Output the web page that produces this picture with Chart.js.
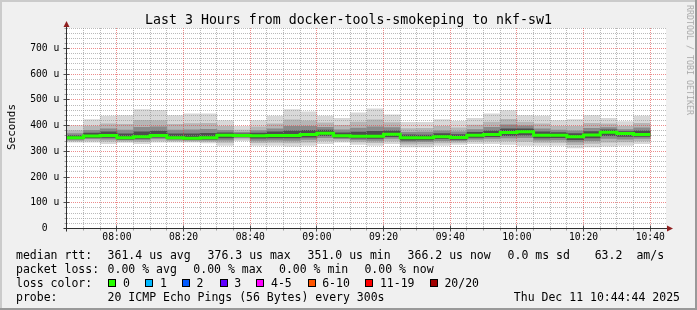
<!DOCTYPE html>
<html><head><meta charset="utf-8">
<script src="https://cdn.jsdelivr.net/npm/chart.js@4.4.1/dist/chart.umd.min.js"></script>
<style>
html,body{margin:0;padding:0;background:#f0f0f0;}
#wrap{position:relative;width:697px;height:310px;background:#f0f0f0;overflow:hidden;font-family:'DejaVu Sans Mono',monospace;color:#000;}
#c{position:absolute;left:0;top:0;width:697px;height:310px;}
.b{position:absolute;}
.t{position:absolute;white-space:pre;font-size:11.5px;line-height:14px;height:14px;}
.box{position:absolute;width:8px;height:8px;box-sizing:border-box;border:1px solid #000;}
#title{position:absolute;left:0;top:12px;width:697px;text-align:center;font-size:13.25px;line-height:16px;white-space:pre;}
#ylab{position:absolute;left:11px;top:127px;transform:translate(-50%,-50%) rotate(-90deg);font-size:10.9px;line-height:13px;white-space:pre;}
#wm{position:absolute;left:690px;top:60px;transform:translate(-50%,-50%) rotate(90deg);font-size:8.3px;line-height:10px;white-space:pre;color:#aaaaaa;}
</style></head><body>
<div id="wrap">
<canvas id="c" width="697" height="310"></canvas>
<div class="b" style="left:0;top:0;width:697px;height:2px;background:#cbcbcb"></div>
<div class="b" style="left:0;top:0;width:2px;height:310px;background:#cbcbcb"></div>
<div class="b" style="left:695px;top:0;width:2px;height:310px;background:#999999"></div>
<div class="b" style="left:0;top:308px;width:697px;height:2px;background:#999999"></div>
<div id="title">Last 3 Hours from docker-tools-smokeping to nkf-sw1</div>
<div id="ylab">Seconds</div>
<div id="wm">RRDTOOL / TOBI OETIKER</div>
<div id="legend"></div>
</div>
<script>
// ---- data ----
const binStarts = ['07:45','07:50','07:55','08:00','08:05','08:10','08:15','08:20','08:25','08:30',
  '08:35','08:40','08:45','08:50','08:55','09:00','09:05','09:10','09:15','09:20',
  '09:25','09:30','09:35','09:40','09:45','09:50','09:55','10:00','10:05','10:10',
  '10:15','10:20','10:25','10:30','10:35'];
const medianRtt = [353,360,362,353,357,362,353,351,353,363, 362,361,362,362,366,371,361,359,359,367,
  353,353,357,354,363,366,373,376,363,363, 357,364,374,370,366];
const pingMax = [400,424,437,439,463,460,439,446,446,420, 397,420,437,463,454,437,429,450,466,442,
  413,413,424,417,429,446,459,439,437,420, 424,439,429,416,437];
const upper2 = [381,398,407,405,421,420,405,408,409,397, 383,396,407,423,419,411,401,414,423,412,
  389,390,397,392,402,414,425,414,407,397, 397,409,407,397,409];
const upper3 = [369,382,388,383,394,396,383,384,386,382, 374,381,388,397,397,394,384,391,396,393,
  374,375,380,376,385,394,403,399,388,383, 380,390,393,385,392];
const upper4 = [361,371,376,368,376,379,368,368,370,372, 368,371,376,380,382,383,372,375,378,380,
  364,363,369,365,374,380,388,388,376,373, 369,377,384,377,380];
const lower4 = [349,353,354,348,350,355,349,347,348,352, 357,351,352,352,355,361,354,351,350,357,
  344,345,349,347,354,357,361,363,352,353, 346,352,361,358,358];
const lower3 = [345,349,348,345,345,350,345,344,344,344, 353,343,344,343,347,353,349,345,343,350,
  337,338,342,342,348,350,352,353,344,345, 337,342,350,348,350];
const lower2 = [341,343,340,340,338,343,341,340,339,335, 348,334,335,333,336,342,343,337,334,341,
  328,329,333,335,340,341,341,339,335,335, 326,331,336,337,341];
const pingMin = [336,336,330,335,330,336,336,336,333,323, 342,323,323,320,323,330,336,327,323,330,
  317,317,323,327,330,330,327,323,323,323, 313,317,320,323,330];
const xTickLabels = ['08:00','08:20','08:40','09:00','09:20','09:40','10:00','10:20','10:40'];
const yTickLabels = ['0','100 u','200 u','300 u','400 u','500 u','600 u','700 u'];
const rangeStart = '07:44:44', rangeEnd = '10:44:44', binMinutes = 5, gridStart = '07:45';
const yMax = 780, yMinorStep = 20, yMajorStep = 100;
const lossLabels = ['0','1','2','3','4-5','6-10','11-19','20/20'];
const lossColors = ['#26ff00','#00b8ff','#0059ff','#5e00ff','#ff00ff','#ff5500','#ff0000','#a10000'];

// ---- legend text ----
const legendRows = [
  {top:247.5, items:[[16,'median rtt:'],[107.6,'361.4 us avg'],[207.6,'376.3 us max'],[307.6,'351.0 us min'],[407.6,'366.2 us now'],[507.6,'0.0 ms sd'],[594.7,'63.2'],[636.4,'am/s']]},
  {top:261.5, items:[[16,'packet loss:'],[107.6,'0.00 % avg'],[193.3,'0.00 % max'],[279,'0.00 % min'],[364.4,'0.00 % now']]},
  {top:275.5, items:[[16,'loss color:']]},
  {top:289.5, items:[[16,'probe:'],[107.6,'20 ICMP Echo Pings (56 Bytes) every 300s']]}
];
const lg = document.getElementById('legend');
let html = '';
legendRows.forEach(r => r.items.forEach(([x,s]) => { html += `<div class="t" style="left:${x}px;top:${r.top}px">${s}</div>`; }));
const boxX = [108.4,145.3,182,219.6,256.4,307.6,365.3,429.8];
lossLabels.forEach((l,i) => {
  html += `<div class="box" style="left:${boxX[i]}px;top:278.5px;background:${lossColors[i]}"></div>`;
  html += `<div class="t" style="left:${boxX[i]+14.6}px;top:275.5px">${l}</div>`;
});
html += `<div class="t" style="right:17px;top:289.5px">Thu Dec 11 10:44:44 2025</div>`;
lg.innerHTML = html;

// ---- chart ----
const toMin = s => { const p = s.split(':').map(Number); return p[0]*60 + p[1] + (p[2]||0)/60; };
const xMin = toMin(rangeStart), xMax = toMin(rangeEnd), g0 = toMin(gridStart);
const centers = binStarts.map(s => toMin(s) + binMinutes/2);
const band = (lo, hi) => centers.map((c,i) => ({x:c, y:[lo[i], hi[i]]}));
const medianLine = [];
binStarts.forEach((s,i) => { medianLine.push({x:toMin(s), y:medianRtt[i]}); medianLine.push({x:toMin(s)+binMinutes, y:medianRtt[i]}); });
const labelSet = xTickLabels.map(s => toMin(s));

const MINOR = 'rgba(143,143,143,0.62)', MAJOR = 'rgba(225,70,70,0.62)';
const colX = (xs, v) => Math.floor(xs.getPixelForValue(v)) + 0.5;
function drawGrid(chart){
  const {ctx, chartArea:a} = chart; const xs = chart.scales.x, ys = chart.scales.y;
  const L = Math.floor(a.left) + 1, T = Math.ceil(a.top);
  ctx.save(); ctx.lineWidth = 1; ctx.setLineDash([1,1]);
  for (let v = yMinorStep; v <= yMax; v += yMinorStep) {
    const p = Math.round(ys.getPixelForValue(v) - 0.5) + 0.5;
    ctx.strokeStyle = (v % yMajorStep === 0) ? MAJOR : MINOR;
    ctx.beginPath(); ctx.moveTo(L, p); ctx.lineTo(a.right, p); ctx.stroke();
  }
  for (let v = g0 + binMinutes; v < xMax; v += binMinutes) {
    const p = colX(xs, v);
    ctx.strokeStyle = labelSet.includes(v) ? MAJOR : MINOR;
    ctx.beginPath(); ctx.moveTo(p, T); ctx.lineTo(p, a.bottom); ctx.stroke();
  }
  ctx.restore();
}
const frame = {
  id:'frame',
  beforeDraw(chart){
    const {ctx, chartArea:a} = chart;
    ctx.save(); ctx.fillStyle = '#ffffff';
    ctx.fillRect(a.left, a.top, a.right-a.left, a.bottom-a.top); ctx.restore();
  },
  beforeDatasetDraw(chart, args){ if (args.index === 0) drawGrid(chart); },
  afterDraw(chart){
    const {ctx} = chart; const xs = chart.scales.x, ys = chart.scales.y;
    const ax = Math.floor(xs.left)+0.5, ay = Math.floor(ys.getPixelForValue(0))+0.5;
    const right = xs.right, top = ys.top;
    ctx.save(); ctx.lineWidth = 1;
    for (let v = yMinorStep; v <= yMax; v += yMinorStep) {
      const p = Math.round(ys.getPixelForValue(v) - 0.5) + 0.5; const maj = v % yMajorStep === 0;
      ctx.strokeStyle = maj ? '#505050' : '#a0a0a0';
      ctx.beginPath(); ctx.moveTo(ax - (maj ? 3 : 2), p); ctx.lineTo(ax + (maj ? 3 : 1), p); ctx.stroke();
    }
    for (let v = g0 + binMinutes; v < xMax; v += binMinutes) {
      const p = colX(xs, v); const maj = labelSet.includes(v);
      ctx.strokeStyle = maj ? '#505050' : '#a0a0a0';
      ctx.beginPath(); ctx.moveTo(p, ay - (maj ? 3 : 1)); ctx.lineTo(p, ay + (maj ? 3 : 2)); ctx.stroke();
    }
    ctx.strokeStyle = '#303030';
    ctx.beginPath(); ctx.moveTo(ax-3, ay); ctx.lineTo(right+1, ay); ctx.stroke();
    ctx.beginPath(); ctx.moveTo(ax, ay+3); ctx.lineTo(ax, top-1); ctx.stroke();
    ctx.fillStyle = '#902020';
    ctx.beginPath(); ctx.moveTo(right+1, ay-3); ctx.lineTo(right+7, ay); ctx.lineTo(right+1, ay+3); ctx.closePath(); ctx.fill();
    ctx.beginPath(); ctx.moveTo(ax-3, top-1); ctx.lineTo(ax, top-7); ctx.lineTo(ax+3, top-1); ctx.closePath(); ctx.fill();
    ctx.restore();
  }
};

const barCommon = {type:'bar', grouped:false, barPercentage:1, categoryPercentage:1, borderWidth:0};
new Chart(document.getElementById('c'), {
  type:'bar',
  data:{datasets:[
    {type:'line', data:medianLine, borderColor:'#26ff00', borderWidth:3, pointRadius:0, fill:false, tension:0, order:0, borderCapStyle:'butt'},
    Object.assign({data:band(lower4, upper4), backgroundColor:'#4e4e4e', order:1}, barCommon),
    Object.assign({data:band(lower3, upper3), backgroundColor:'#8a8a8a', order:2}, barCommon),
    Object.assign({data:band(lower2, upper2), backgroundColor:'#b6b6b6', order:3}, barCommon),
    Object.assign({data:band(pingMin, pingMax), backgroundColor:'#d8d8d8', order:4}, barCommon)
  ]},
  options:{
    animation:false, responsive:false, maintainAspectRatio:false,
    layout:{padding:{left:0, top:28, right:31, bottom:61.5}},
    plugins:{legend:{display:false}, tooltip:{enabled:false}, title:{display:false}},
    scales:{
      x:{type:'linear', min:xMin, max:xMax, offset:false,
        afterFit(s){ s.height = 20; },
        afterBuildTicks(s){ s.ticks = labelSet.map(v => ({value:v})); },
        ticks:{autoSkip:false, maxRotation:0, minRotation:0, padding:3, color:'#000',
          font:{family:'DejaVu Sans Mono', size:9.7},
          callback(v){ return xTickLabels[labelSet.indexOf(v)] || ''; }},
        grid:{display:false, drawTicks:false, drawOnChartArea:false, offset:false},
        border:{display:false}
      },
      y:{type:'linear', min:0, max:yMax,
        afterFit(s){ s.width = 66; },
        ticks:{stepSize:yMajorStep, autoSkip:false, padding:6.7, color:'#000', font:{family:'DejaVu Sans Mono', size:9.7},
          callback(v){ const l = yTickLabels[v/yMajorStep]; if (l === undefined) return ''; return v===0 ? l+'  ' : l; }},
        grid:{display:false, drawTicks:false, drawOnChartArea:false},
        border:{display:false}
      }
    }
  },
  plugins:[frame]
});
</script>
</body></html>
